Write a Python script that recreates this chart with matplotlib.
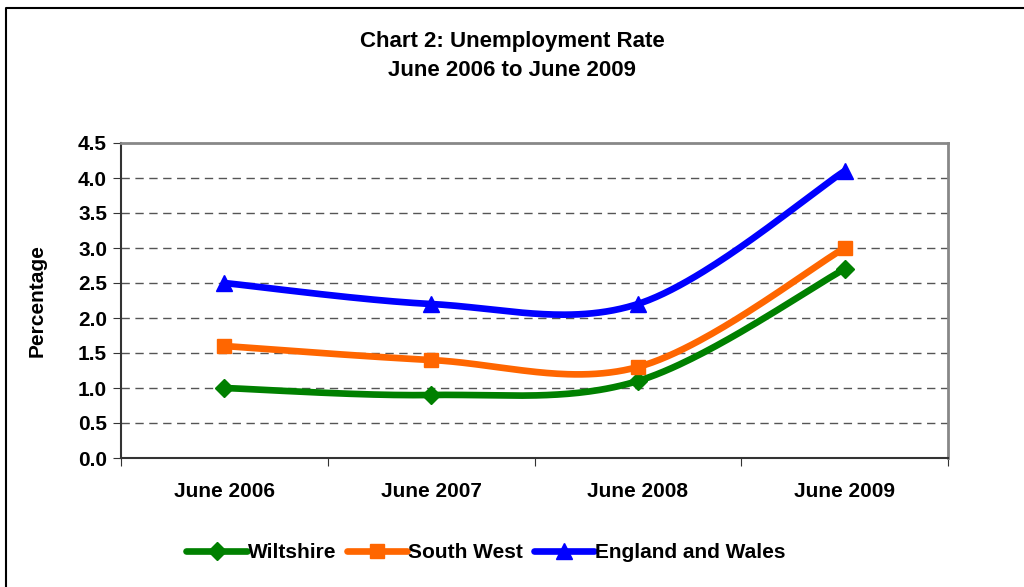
import numpy as np
import matplotlib
matplotlib.use("Agg")
import matplotlib.pyplot as plt
from matplotlib.lines import Line2D

plt.rcParams['font.family'] = ['Liberation Sans', 'DejaVu Sans']

categories = ["June 2006", "June 2007", "June 2008", "June 2009"]
wiltshire = [1.0, 0.9, 1.1, 2.7]
south_west = [1.6, 1.4, 1.3, 3.0]
england_wales = [2.5, 2.2, 2.2, 4.1]
y_ticks = [0.0, 0.5, 1.0, 1.5, 2.0, 2.5, 3.0, 3.5, 4.0, 4.5]

def smooth(xs, ys, n=60):
    xs = np.asarray(xs, float); ys = np.asarray(ys, float)
    P = np.column_stack([xs, ys])
    P = np.vstack([P[0], P, P[-1]])
    out = []
    t = np.linspace(0, 1, n)
    for i in range(1, len(P) - 2):
        p0, p1, p2, p3 = P[i-1], P[i], P[i+1], P[i+2]
        c1 = p1 + (p2 - p0) / 6.0
        c2 = p2 - (p3 - p1) / 6.0
        b = ((1-t)**3)[:, None]*p1 + (3*(1-t)**2*t)[:, None]*c1 + (3*(1-t)*t**2)[:, None]*c2 + (t**3)[:, None]*p2
        out.append(b)
    B = np.vstack(out)
    return B[:, 0], B[:, 1]

fig = plt.figure(figsize=(10.24, 5.87), dpi=100)
ax = fig.add_axes([121/1024, 1-458/587, 827/1024, 315/587])

x = np.arange(len(categories)) + 0.5
series = [
    ("Wiltshire", wiltshire, "#008000", "D", 9),
    ("South West", south_west, "#FF6600", "s", 10),
    ("England and Wales", england_wales, "#0000FF", "^", 11),
]
handles = []
for name, vals, col, mk, ms in series:
    sx, sy = smooth(x, vals)
    ax.plot(sx, sy, color=col, lw=4.8, solid_capstyle='round', zorder=3)
    ax.plot(x, vals, linestyle='none', marker=mk, ms=ms, color=col, zorder=4)
    handles.append(Line2D([0], [0], color=col, lw=4.8, marker=mk, ms=ms,
                          solid_capstyle='round'))

LBL = 15
ax.set_xlim(0, 4)
ax.set_ylim(0, 4.5)
ax.set_yticks(y_ticks)
ax.set_yticklabels([f"{v:.1f}" for v in y_ticks], fontsize=LBL, fontweight='bold')
ax.set_xticks(np.arange(0, 5))
ax.set_xticklabels([])
ax.set_xticks(x, minor=True)
ax.set_xticklabels(categories, minor=True, fontsize=LBL, fontweight='bold')
ax.tick_params(axis='x', which='minor', length=0, pad=17)
ax.tick_params(axis='x', which='major', length=6, direction='out', color='#333333')
ax.tick_params(axis='y', length=6, direction='out', color='#333333', pad=4)
for yv in y_ticks[1:-1]:
    ax.axhline(yv, color='#555555', lw=1, ls=(0, (6, 4)), zorder=1)
ax.spines['left'].set_color('#333333')
ax.spines['bottom'].set_color('#333333')
ax.spines['left'].set_linewidth(1.5)
ax.spines['bottom'].set_linewidth(1.5)
ax.spines['top'].set_color('#888888')
ax.spines['right'].set_color('#888888')
ax.spines['top'].set_linewidth(2)
ax.spines['right'].set_linewidth(2)
ax.set_ylabel("Percentage", fontsize=LBL, fontweight='bold')
ax.yaxis.set_label_coords((47-121)/827, 0.5)

fig.text(0.5, 1-42/587, "Chart 2: Unemployment Rate", ha='center', va='center',
         fontsize=16, fontweight='bold')
fig.text(0.5, 1-70/587, "June 2006 to June 2009", ha='center', va='center',
         fontsize=16, fontweight='bold')

fig.legend(handles, [s[0] for s in series], loc='center', bbox_to_anchor=(486/1024, 1-553/587),
           ncol=3, frameon=False, prop={'size': LBL, 'weight': 'bold'},
           handlelength=2.9, handletextpad=0.05, columnspacing=0.5)

fig.add_artist(Line2D([6/1024, 6/1024, 1.01], [-0.01, 1-8/587, 1-8/587],
                      transform=fig.transFigure, color='black', lw=1.5))

fig.savefig("out.png", dpi=100)
